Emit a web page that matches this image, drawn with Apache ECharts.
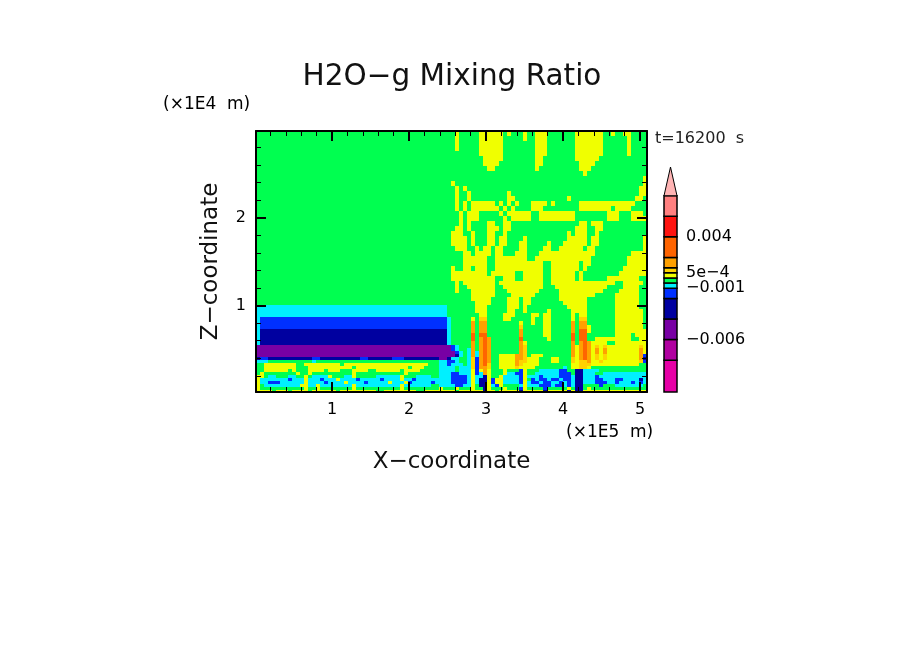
<!DOCTYPE html>
<html>
<head>
<meta charset="utf-8">
<title>H2O-g Mixing Ratio</title>
<script src="https://cdn.jsdelivr.net/npm/echarts@6/dist/echarts.min.js"></script>
<style>
html, body { margin: 0; padding: 0; background: #fff; }
#chart { width: 904px; height: 654px; }
</style>
</head>
<body>
<div id="chart"></div>
<script>
// axis ticks
const xMajorTicks = [1, 2, 3, 4, 5];
const xMinorTicks = [0.2, 0.4, 0.6, 0.8, 1.2, 1.4, 1.6, 1.8, 2.2, 2.4, 2.6, 2.8, 3.2, 3.4, 3.6, 3.8, 4.2, 4.4, 4.6, 4.8];
const zMajorTicks = [1, 2];
const zMinorTicks = [0.2, 0.4, 0.6, 0.8, 1.2, 1.4, 1.6, 1.8, 2.2, 2.4, 2.6, 2.8];

// contour levels, colour bar
const levelNames = 'abcdefghijklmn';
const levelBounds = [-0.0111, -0.008, -0.006, -0.004, -0.002, -0.001, -0.0005, 0, 0.0005, 0.001, 0.002, 0.004, 0.006, 0.008, 0.0108];
const levelTicks = [-0.006, -0.001, 0.0005, 0.004];
const levelTickLabels = ['\u22120.006', '\u22120.001', '5e\u22124', '0.004'];

// grid cells: x step in 1E5 m, row edges in 1E4 m
const xOrigin = 0.013;
const xStep = 0.0518;
const zEdges = [
    2.987, 2.930, 2.873, 2.816, 2.759, 2.702, 2.645, 2.588, 2.531, 2.474,
    2.417, 2.360, 2.303, 2.246, 2.189, 2.132, 2.075, 2.018, 1.961, 1.904,
    1.847, 1.790, 1.733, 1.676, 1.619, 1.562, 1.505, 1.448, 1.391, 1.334,
    1.277, 1.231, 1.186, 1.140, 1.095, 1.049, 1.003, 0.958, 0.912, 0.867,
    0.821, 0.775, 0.730, 0.684, 0.639, 0.593, 0.547, 0.513, 0.479, 0.445,
    0.410, 0.376, 0.342, 0.308, 0.274, 0.239, 0.205, 0.171, 0.137, 0.103,
    0.068, 0.034, 0.015
];

// one string per row, top to bottom: level letter + column where that level ends
const fieldRows = [
    'g50h51g56h62g63h64g67h68g70h73g80h87g89h90g92h94g98',
    'g50h51g56h62g67h68g70h73g80h87g93h94g98',
    'g50h51g56h62g70h73g80h87g93h94g98',
    'g50h51g56h62g70h73g80h87g93h94g98',
    'g56h62g70h73g80h87g93h94g98',
    'g57h62g70h72g80h86g98',
    'g57h61g70h72g81h85g98',
    'g58h60g70h71g81h84g98',
    'g82h83g98',
    'g97h98',
    'g49h50g97h98',
    'g50h51g52h53g96h98',
    'g50h51g53h54g63h64g96h98',
    'g50h51g53h54g63h65g78h79g95h97g98',
    'g50h51g52h53g54h55g55h60g61h62g63h64g65h66g69h73g74h75g81h95g98',
    'g50h51g52h53g54h61g62h63g64h65g69h72g81h89g90h94g98',
    'g51h52g53h56g61h62g63h69g71h80g88h91g94h97g98',
    'g51h52g53h56g62h63g64h69g71h80g88h91g94h98',
    'g51h52g53h54g58h60g62h64g81h83g84h87g98',
    'g50h52g53h54g58h61g62h64g80h83g85h87g98',
    'g49h52g54h55g58h60g62h63g78h79g80h83g85h86g98',
    'g49h53g54h55g58h60g61h63g67h68g78h83g84h86g97h98',
    'g49h53g54h55g58h60g61h63g66h68g73h74g77h83g84h86g97h98',
    'g50h53g55h56g57h59g60h62g66h68g72h74g76h82g83h85g97h98',
    'g52h54g55h59g60h62g65h68g71h85g94h98',
    'g52h58g60h68g70h84g93h98',
    'g52h58g60h72g74h81g82h84g93h98',
    'g49h50g52h54g55h58g60h72g74h81g82h83g92h98',
    'g49h58g59h65g67h72g74h80g81h82g91h98',
    'g49h60g62h65g67h72g74h80g81h82g88h96g98',
    'g50h51g52h60g61h72g74h90g92h97g98',
    'g50h51g53h60g62h72g75h88g92h96g98',
    'g50h51g54h60g63h71g76h87g91h96g98',
    'g51h51g54h60g64h70g76h85g90h96g98',
    'g54h59g63h66g67h69g76h83g90h96g98',
    'g55h59g63h66g67h69g77h83g90h96g98',
    'f48g55h58g63h66g67h68g78h83g90h96g98',
    'f48g55h58g63h65g67h68g73h74g79h83g90h97g98',
    'f48g56h58g62h65g69h71g72h74g79h80g81h83g90h97g98',
    'f1e48f49g54h55g56i58g62h64g69h70g72h74g79h80g81i83g90h97g98',
    'f1e48f49g54j55g56j58g66h67g69h70g72h74g79j80g81j83g90h97g98',
    'f1e48f49g54j55g56j58g66i67g72h74g79j80g81j83h84g90h97g98',
    'f1d48f49g54j55g56j58g66j67g72h74g79j80g81k83h84g90h98',
    'f1d48f49g54k55g56k58g66j67g72h74g79k80g81k83g90h94g95h98',
    'f1d48f49g54k55g56j57k58j59g66k67g73h74g79k80g81k83g85h94g96h98',
    'f1d48f49g54j55g56j57k58j59g66j67h68g79j80g81j82k83j84h88g90h98',
    'c49e50f51g54j55g56j57k58j59g66j67i68g79j80h81j82k83j84h85i86h87i88h96i97h98',
    'c49e50f51g53f54j55g56j57k58j59g66j67i68g79j80h81j82k83j84h85j86h87j88h96j97h98',
    'c50e51f52g53f54j55f56j57k58j59g66j67i68g79j80h81j82k83j84h85j86h87j88h96j97h98',
    'c50d51f52g53f54j55f56j57k58j59g61h65j67i68g69h72g79j80h81j82k83j84h85i86h87i88h96j97e98',
    'd1e3d14e16d26e28d34e37d46c48d49f51g53f54i55e56j57k58j59g61h65j67i68h71g74h76g79i80h81j82k83j84h85i86h87i88h96j97d98',
    'f3g14f15g46f48e50f51g53f54i55e56j57k58j59g61h65j66i68h71g74h76g79i80h81i83j84h86i87h96i97e98',
    'g2h10g12h21g22h43g46f48e49f52g53f54i55e56j57k58i59g61h65j66i67h71g79h81i84h96g98',
    'g2h10g13h24g25h38g39h42g46f50g51f54i55e56j57j58i59g61h65i66h70g77f78g79h81i83h84g98',
    'g2h8g9h10g13h17g18h21g24h28g30h36g37h41g46f50g51f54h55e56h57j58h59g62h63g66e67h68g71f76e78g80d82f86g98',
    'g1h2g10h11g13h14g24h25g37h38g46f49e51f54h55e56f57j58h59g62h63f65e67h68g70f76e79g80d82f85g87f98',
    'h2g3f5g8f10g12h13g14f18h19g22f24h25g30f36h37g40f44g46f49e53f54h55f57d58h59g61h62f66e67h68f71e72f76e79f80d82f85e86f98',
    'h1f8e9f12h13f16e17f20h21f25e26f31e32f36h37f39e40f49e53f54h55f56d58h59e60h62f66e67h68g69e70f71e73f74e76f77e79f80d82f85e87f90e92f96d97f98',
    'h1f3e6f12h13f17e18f22h23f27e28f33h34f37h38e39f44e45f49e53f54h55f56d58h59e60h62f66e67h68f69e71f72e74f76e77f78e79f80d82f85e88f90e91f94e95f96e97f98',
    'h1g2f11h13f15h16f24h25f36h37f44g46f50e52f54h55g56d58h59f60e61h62g66f67h68f71e74f75e77f78e79f80d82g86e87g90f97g98',
    'h1g12h13g15h16g24h25g36h37g46h47g50h51g54h55g57d58h59g62h63g66e67h68g72e73g78h79g80d82g83h84g98',
    'h4g5h8g9h13g14h20g21h30g32h40g42h50g51h57d58h60g61h66d67h72d73h78d79h80d82h98'
];

const levelColors = [
    '#e600a6', '#b000a0', '#7800a4', '#0000a0', '#0030ff', '#00f0ff', '#00ff50',
    '#f0ff00', '#ffd200', '#ffa000', '#ff6400', '#ff1410', '#ff8080', '#ffb4b4'
];

// build rectangles from the rows
const cells = [];
fieldRows.forEach((row, r) => {
    let start = 0;
    row.replace(/([a-n])(\d+)/g, (m, name, end) => {
        end = Number(end);
        if (end > start) {
            cells.push([
                xOrigin + start * xStep, xOrigin + end * xStep,
                zEdges[r + 1], zEdges[r],
                levelNames.indexOf(name)
            ]);
            start = end;
        }
    });
});

const barCells = levelColors.map((c, i) => [0, 1, levelBounds[i], levelBounds[i + 1], i]);

const chart = echarts.init(document.getElementById('chart'));
const font = 'DejaVu Sans';
const plot = { left: 256, top: 131, width: 391, height: 261 };

function xAxisOf(grid, position, ticks, len, width, extra) {
    return Object.assign({
        type: 'value', gridIndex: grid, position: position, min: 0.013, max: 5.091, z: 5,
        axisLine: { show: grid === 0, onZero: false, lineStyle: { color: '#000', width: 2 } },
        axisTick: { show: true, inside: true, length: len, customValues: ticks, lineStyle: { color: '#000', width: width } },
        axisLabel: { show: false, customValues: ticks },
        splitLine: { show: false }
    }, extra);
}
function yAxisOf(grid, position, ticks, len, width, extra) {
    return Object.assign({
        type: 'value', gridIndex: grid, position: position, min: 0.015, max: 2.987, z: 5,
        axisLine: { show: grid === 0, onZero: false, lineStyle: { color: '#000', width: 2 } },
        axisTick: { show: true, inside: true, length: len, customValues: ticks, lineStyle: { color: '#000', width: width } },
        axisLabel: { show: false, customValues: ticks },
        splitLine: { show: false }
    }, extra);
}

const option = {
    backgroundColor: '#fff',
    animation: false,
    title: {
        text: 'H2O\u2212g Mixing Ratio',
        left: 447, top: 57, textAlign: 'center',
        textStyle: { fontFamily: font, fontWeight: 'normal', fontSize: 29.5, color: '#111' }
    },
    grid: [
        plot,
        plot,
        { left: 664, top: 167, width: 13, height: 225 }
    ],
    xAxis: [
        xAxisOf(0, 'bottom', xMajorTicks, 10, 2, {
            name: 'X\u2212coordinate', nameLocation: 'middle', nameGap: 59,
            nameTextStyle: { fontFamily: font, fontSize: 23, color: '#111' },
            axisLabel: { show: true, customValues: xMajorTicks, margin: 10, fontFamily: font, fontSize: 16, color: '#000' }
        }),
        xAxisOf(0, 'top', xMajorTicks, 10, 2),
        xAxisOf(1, 'bottom', xMinorTicks, 5, 1),
        xAxisOf(1, 'top', xMinorTicks, 5, 1),
        { type: 'value', gridIndex: 2, min: 0, max: 1, show: false }
    ],
    yAxis: [
        yAxisOf(0, 'left', zMajorTicks, 10, 2, {
            name: 'Z\u2212coordinate', nameLocation: 'middle', nameGap: 33,
            nameTextStyle: { fontFamily: font, fontSize: 23, color: '#111' },
            axisLabel: { show: true, customValues: zMajorTicks, margin: 10, fontFamily: font, fontSize: 16, color: '#000' }
        }),
        yAxisOf(0, 'right', zMajorTicks, 10, 2),
        yAxisOf(1, 'left', zMinorTicks, 5, 1),
        yAxisOf(1, 'right', zMinorTicks, 5, 1),
        {
            type: 'value', gridIndex: 2, position: 'right',
            min: levelBounds[0], max: levelBounds[levelBounds.length - 1],
            axisLine: { show: false, onZero: false },
            axisTick: { show: false },
            splitLine: { show: false },
            axisLabel: {
                show: true, customValues: levelTicks, margin: 9,
                fontFamily: font, fontSize: 16, color: '#000',
                formatter: (v) => levelTickLabels[levelTicks.findIndex(t => Math.abs(t - v) < 1e-9)]
            }
        }
    ],
    graphic: [
        { type: 'text', left: 163, top: 96, style: { text: '(\u00d71E4  m)', fontFamily: font, fontSize: 17, fill: '#000' } },
        { type: 'text', left: 566, top: 424, style: { text: '(\u00d71E5  m)', fontFamily: font, fontSize: 17, fill: '#000' } },
        { type: 'text', left: 655, top: 131, style: { text: 't=16200  s', fontFamily: font, fontSize: 16, fill: '#222' } }
    ],
    series: [
        {
            type: 'custom',
            xAxisIndex: 0, yAxisIndex: 0,
            clip: true, z: 1,
            data: cells,
            encode: { x: [0, 1], y: [2, 3] },
            renderItem: (params, api) => {
                const a = api.coord([api.value(0), api.value(3)]);
                const b = api.coord([api.value(1), api.value(2)]);
                const x0 = Math.round(a[0]), y0 = Math.round(a[1]);
                return {
                    type: 'rect',
                    shape: { x: x0, y: y0, width: Math.round(b[0]) - x0, height: Math.round(b[1]) - y0 },
                    style: { fill: levelColors[api.value(4)] }
                };
            }
        },
        {
            type: 'custom',
            xAxisIndex: 4, yAxisIndex: 4,
            clip: false, z: 2,
            data: barCells,
            encode: { x: [0, 1], y: [2, 3] },
            renderItem: (params, api) => {
                const a = api.coord([api.value(0), api.value(3)]);
                const b = api.coord([api.value(1), api.value(2)]);
                const fill = levelColors[api.value(4)];
                // top level is drawn as the arrow head
                if (api.value(4) === levelColors.length - 1) {
                    return {
                        type: 'polygon',
                        shape: { points: [[a[0], b[1]], [(a[0] + b[0]) / 2, a[1]], [b[0], b[1]]] },
                        style: { stroke: '#000', lineWidth: 1, fill: fill }
                    };
                }
                return {
                    type: 'rect',
                    shape: { x: a[0], y: a[1], width: b[0] - a[0], height: b[1] - a[1] },
                    style: { stroke: '#000', lineWidth: 1.5, fill: fill }
                };
            }
        }
    ]
};
chart.setOption(option);
</script>
</body>
</html>
